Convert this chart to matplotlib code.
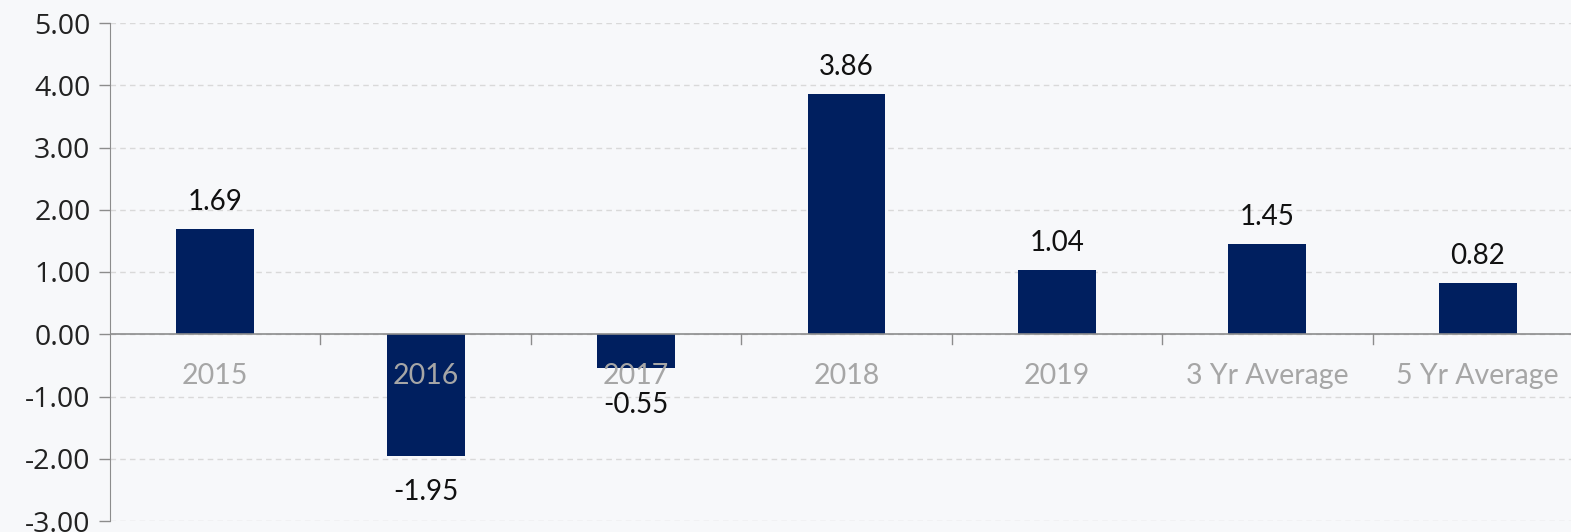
import numpy as np
import matplotlib.pyplot as plt

# chart data
categories = ["2015", "2016", "2017", "2018", "2019", "3 Yr Average", "5 Yr Average"]
values = [1.69, -1.95, -0.55, 3.86, 1.04, 1.45, 0.82]
y_ticks = [-3, -2, -1, 0, 1, 2, 3, 4, 5]

BG = "#F7F8FA"
BAR = "#001F5F"
AXIS_GRAY = "#8C8C8C"

W, H = 1571, 532
fig = plt.figure(figsize=(W / 100, H / 100), dpi=100, facecolor=BG)
ax = fig.add_axes([110 / W, 1 - 521 / H, 1 - 110 / W, (521 - 23) / H])
ax.set_facecolor(BG)

x = np.arange(len(categories))
ax.bar(x, values, width=0.37, color=BAR, zorder=3)

# value labels
for xi, v in zip(x, values):
    if v >= 0:
        ax.annotate(f"{v:.2f}", (xi, v), xytext=(0, 10), textcoords="offset points",
                    ha="center", va="bottom", fontsize=20, family="Lato", color="#111111")
    else:
        ax.annotate(f"{v:.2f}", (xi, v), xytext=(0, -17), textcoords="offset points",
                    ha="center", va="top", fontsize=20, family="Lato", color="#111111")

# category labels below the zero line
for xi, lab in zip(x, categories):
    ax.annotate(lab, (xi, 0), xytext=(0, -30), textcoords="offset points",
                ha="center", va="center", fontsize=20.5, family="Lato", color="#A6A6A6", zorder=4)

# short tick marks between categories, hanging from the zero line
for xb in np.arange(1, len(categories)) - 0.5:
    ax.plot([xb, xb], [0, -10 / 62.25], color=AXIS_GRAY, lw=1, zorder=2)

ax.set_ylim(-3, 5)
ax.set_yticks(y_ticks)
ax.set_yticklabels([f"{t:.2f}" for t in y_ticks], fontsize=20.5, family="Open Sans", color="#222222")
ax.tick_params(axis="y", length=8, color=AXIS_GRAY, width=1, pad=6)

ax.set_xticks([])
ax.set_xlim(-0.5, 6.5 - 12 / 210.5)

ax.grid(axis="y", linestyle=(0, (4, 3)), color="#D9D9D9", lw=1, zorder=0)
ax.axhline(0, color=AXIS_GRAY, lw=1.2, zorder=4)

for s in ["top", "right", "bottom"]:
    ax.spines[s].set_visible(False)
ax.spines["left"].set_color(AXIS_GRAY)

fig.savefig("out.png", dpi=100, facecolor=BG)
